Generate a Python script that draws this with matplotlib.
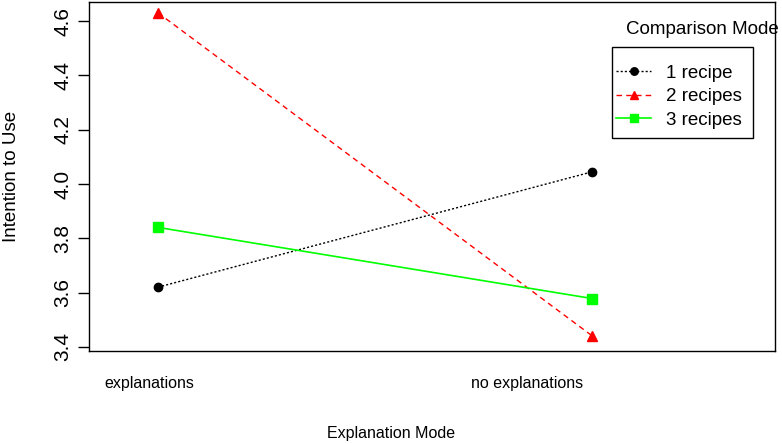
import matplotlib
matplotlib.use("Agg")
import matplotlib.pyplot as plt
from matplotlib.patches import Rectangle

plt.rcParams['font.family'] = ['Liberation Sans', 'DejaVu Sans']

# levels of explanation mode
levels = ["explanations", "no explanations"]
x_pos = [1, 2]

# mean intention to use per comparison mode
one_recipe = [3.62, 4.045]
two_recipes = [4.63, 3.44]
three_recipes = [3.84, 3.578]

fig = plt.figure(figsize=(7.82, 4.44), dpi=100)
ax = fig.add_axes([0.1138, 0.2095, 0.877, 0.786])

ax.plot(x_pos, one_recipe, color='black', linestyle=(0, (1.5, 1.5)), lw=1,
        marker='o', markersize=6, label='1 recipe')
ax.plot(x_pos, two_recipes, color='red', linestyle=(0, (4, 3)), lw=1,
        marker='^', markersize=7, label='2 recipes')
ax.plot(x_pos, three_recipes, color='#00ff00', linestyle='-', lw=1.2,
        marker='s', markersize=7, label='3 recipes')

ax.set_xlim(0.841, 2.42)
ax.set_ylim(3.385, 4.67)

# tick labels sit a bit left of the points, as in the original
ax.set_xticks([0.979, 1.85])
ax.set_xticklabels(levels, fontsize=11.5)
ax.tick_params(axis='x', length=0, pad=18)

ax.set_yticks([3.4, 3.6, 3.8, 4.0, 4.2, 4.4, 4.6])
ax.set_yticklabels(['3.4', '3.6', '3.8', '4.0', '4.2', '4.4', '4.6'],
                   rotation=90, va='center', fontsize=15)
ax.tick_params(axis='y', length=8, width=1, pad=4)

ax.set_xlabel("Explanation Mode", fontsize=11.5)
ax.xaxis.set_label_coords(0.44, -0.215)
ax.set_ylabel("Intention to Use", fontsize=13.5)
ax.yaxis.set_label_coords(-0.1, 0.5)

for s in ax.spines.values():
    s.set_linewidth(1)

# legend box drawn by hand, entries without frame
ax.add_patch(Rectangle((0.762, 0.610), 0.206, 0.261, transform=ax.transAxes,
                       fill=False, edgecolor='black', lw=1, clip_on=False))
leg = ax.legend(loc='upper left', bbox_to_anchor=(0.768, 0.82), fontsize=13.5,
                frameon=False, handlelength=1.9, borderpad=0, borderaxespad=0,
                labelspacing=0.33, handletextpad=0.8, markerscale=0.9)
ax.text(0.783, 0.92, "Comparison Mode", transform=ax.transAxes,
        fontsize=13.5, va='center', ha='left', clip_on=False)

fig.savefig("out.png", dpi=100)
